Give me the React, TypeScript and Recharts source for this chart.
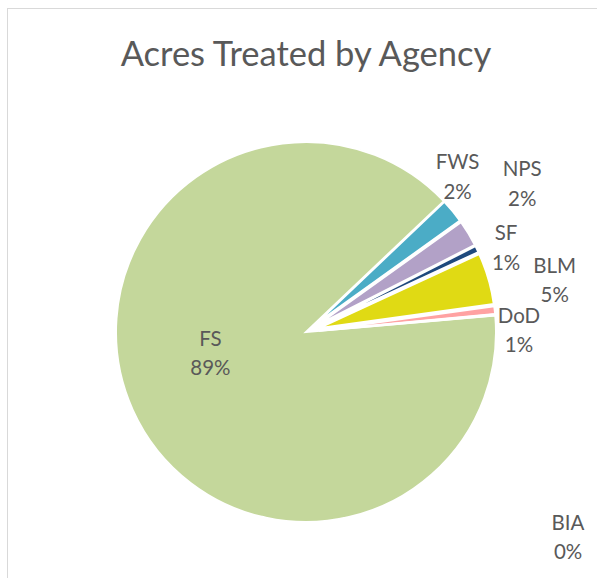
import { Pie, PieChart, Sector } from "recharts";

const agencies = ["FS", "FWS", "NPS", "SF", "BLM", "DoD", "BIA"];
const acresShare = [89.3, 2.2, 2.4, 0.6, 4.7, 0.7, 0.1];
const sliceColors = ["#c4d79b", "#4bacc6", "#b2a1c7", "#1f497d", "#e0da14", "#ffa2a2", "#f79646"];
const explodedAgencies = ["FWS", "NPS", "SF", "BLM", "DoD", "BIA"];

// where Excel's "best fit" dropped each label, polar from the pie centre
const labelSpots: Record<string, { r: number; a: number }> = {
  FS: { r: 98, a: 192.7 },
  FWS: { r: 217, a: 45.7 },
  NPS: { r: 262, a: 34.4 },
  SF: { r: 217, a: 22.8 },
  BLM: { r: 254, a: 11.7 },
  DoD: { r: 213, a: 0.5 },
  BIA: { r: 333, a: -38.1 },
};

const chartData = agencies.map((name, i) => ({
  name,
  value: acresShare[i],
  fill: sliceColors[i],
}));

const RADIAN = Math.PI / 180;
const FONT = "Lato, 'Open Sans', sans-serif";
const TEXT = "#595959";
const EXPLODE = 13;

function ExplodedSlice(props: any) {
  const { cx, cy, midAngle, innerRadius, outerRadius, startAngle, endAngle, fill } = props;
  const name = props.payload?.name ?? props.name;
  const push = explodedAgencies.includes(name) ? EXPLODE : 0;
  return (
    <Sector
      cx={cx + push * Math.cos(-midAngle * RADIAN)}
      cy={cy + push * Math.sin(-midAngle * RADIAN)}
      innerRadius={innerRadius}
      outerRadius={outerRadius - push}
      startAngle={startAngle}
      endAngle={endAngle}
      fill={fill}
      stroke="#fff"
      strokeWidth={2}
    />
  );
}

function renderLabel(props: any) {
  const { cx, cy, percent, name } = props;
  const spot = labelSpots[name];
  if (!spot) return null;
  const x = cx + spot.r * Math.cos(spot.a * RADIAN);
  const y = cy - spot.r * Math.sin(spot.a * RADIAN);
  return (
    <text x={x} y={y - 7.6} textAnchor="middle" fill={TEXT} fontSize={20.5} fontFamily={FONT}>
      <tspan x={x}>{name}</tspan>
      <tspan x={x} dy={29.5}>{`${Math.round(percent * 100)}%`}</tspan>
    </text>
  );
}

export default function App() {
  return (
    <div
      style={{
        position: "fixed",
        left: 7,
        top: 8,
        width: 600,
        height: 580,
        borderTop: "1px solid #d9d9d9",
        borderLeft: "1px solid #d9d9d9",
        background: "#fff",
      }}
    >
      <svg width={590} height={80} style={{ position: "absolute", left: 0, top: 0 }}>
        <text x={298} y={57} textAnchor="middle" fill={TEXT} fontSize={34.5} fontFamily={FONT}>
          Acres Treated by Agency
        </text>
      </svg>
      <PieChart
        width={590}
        height={570}
        margin={{ top: 0, right: 0, bottom: 0, left: 0 }}
        style={{ position: "absolute", left: 0, top: 0 }}
      >
        <Pie
          data={chartData}
          dataKey="value"
          nameKey="name"
          cx={298}
          cy={323}
          outerRadius={190}
          startAngle={365}
          endAngle={5}
          stroke="#fff"
          strokeWidth={2}
          labelLine={false}
          label={renderLabel}
          shape={ExplodedSlice}
          isAnimationActive={false}
        />
      </PieChart>
    </div>
  );
}
